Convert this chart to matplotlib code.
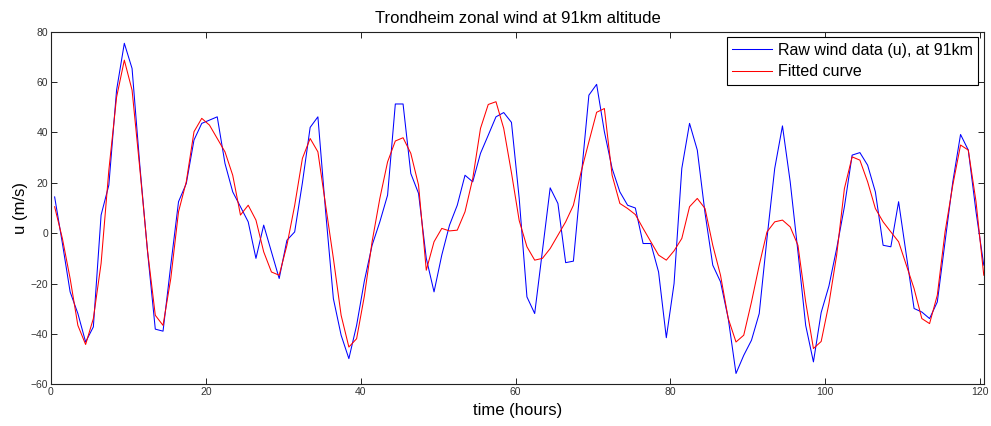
import matplotlib
matplotlib.use("Agg")
import matplotlib.pyplot as plt
import numpy as np

plt.rcParams['font.family'] = ['Liberation Sans', 'DejaVu Sans']

# ===== DATA =====
hours = 0.47 + np.arange(121)

raw_u = [14.4, -4, -23.3, -31.9, -43.2, -37.2, 7.2, 19.1, 56.8, 75.4,
         65.4, 27, -7.4, -38.1, -38.9, -12.7, 12.5, 19.7, 37, 43.6,
         44.9, 46.2, 27.7, 16.4, 10.5, 4.5, -10, 3.2, -7.4, -18,
         -2.8, 0.5, 20, 42, 46.2, 8.5, -26, -40.5, -49.8, -36.6,
         -19, -4.8, 4.5, 15.1, 51.3, 51.3, 23.7, 15.8, -10, -23.3,
         -8.7, 3.2, 11.1, 23, 20.4, 31.7, 38.9, 46.2, 47.9, 44,
         13.8, -25.3, -31.9, -7, 18, 11.8, -11.7, -11.1, 22, 54.8,
         59.1, 40.3, 25.7, 16.4, 11.1, 10, -4.1, -4.1, -15.4, -41.5,
         -20, 25.7, 43.6, 33, 8, -12.7, -19.3, -33.9, -55.7, -48.5,
         -42.5, -31.9, -2.1, 25.7, 42.6, 20.4, -7.4, -36.6, -51.1, -31.5,
         -21, -6.1, 10.5, 31, 32, 27, 16.4, -4.8, -5.4, 12.5,
         -8.7, -29.9, -31.3, -33.9, -27.3, -3.4, 20.4, 39.2, 33, 8.5,
         -12.7]

fitted_u = [10.5, -2.1, -18, -36.6, -44.2, -33.9, -12, 25, 54, 68.7,
            56.8, 25.7, -7, -32.6, -36.6, -18, 8.5, 20.4, 40.3, 45.6,
            42.9, 37.6, 32.3, 23, 7.2, 11.1, 5.2, -7.4, -15.4, -16.7,
            -4.8, 11, 29.7, 37.6, 32.3, 11.1, -10, -32.6, -45.2, -41.9,
            -25, -3.4, 13.8, 28.3, 36.6, 37.9, 31.7, 19.1, -14.7, -3.4,
            1.9, 0.9, 1.2, 8.5, 21.7, 41.6, 51.1, 52.2, 41.6, 24,
            5, -5.4, -10.7, -10, -6.1, -0.8, 4.5, 11.1, 24.4, 36.3,
            48, 49.5, 23, 11.8, 9.8, 7.4, 1.9, -3.4, -8.7, -10.7,
            -7, -2.1, 10.5, 13.8, 9.8, -4.8, -16.7, -33.9, -43.2, -40.5,
            -27.3, -12.7, 0.5, 4.5, 5.2, 2.5, -4.8, -27.3, -45.8, -43,
            -28, -8.7, 17.7, 30.3, 29, 20.4, 9.8, 4.5, 0.5, -3.4,
            -12.7, -22, -33.9, -35.9, -24.6, 0.5, 19.1, 35, 33, 12.5,
            -16.7]

x_ticks = [0, 20, 40, 60, 80, 100, 120]
y_ticks = [-60, -40, -20, 0, 20, 40, 60, 80]

# ===== PLOT =====
fig = plt.figure(figsize=(9.91, 4.26), dpi=100)
ax = fig.add_axes([51 / 991, 1 - 384.3 / 426, (984 - 51) / 991, (384.3 - 31.7) / 426])

ax.plot(hours, raw_u, color='#0000ff', lw=0.75, label='Raw wind data (u), at 91km')
ax.plot(hours, fitted_u, color='#ff0000', lw=0.75, label='Fitted curve')

ax.set_xlim(0, 120.5)
ax.set_ylim(-60, 80)
ax.set_xticks(x_ticks)
ax.set_yticks(y_ticks)
ax.tick_params(direction='in', top=True, right=True, length=4, width=0.6,
               labelsize=7.5, labelcolor='#333333', pad=2)
for s in ax.spines.values():
    s.set_linewidth(0.8)
    s.set_color('#222222')

ax.set_title('Trondheim zonal wind at 91km altitude', fontsize=12, pad=6)
ax.set_xlabel('time (hours)', fontsize=12, labelpad=4)
ax.set_ylabel('u (m/s)', fontsize=12, labelpad=2)

leg = ax.legend(loc='upper right', fontsize=11.5, handlelength=2.5,
                borderaxespad=0.35, fancybox=False, framealpha=1,
                borderpad=0.35, labelspacing=0.4, handletextpad=0.35)
leg.get_frame().set_edgecolor('black')
leg.get_frame().set_linewidth(0.8)

fig.savefig('out.png', dpi=100)
